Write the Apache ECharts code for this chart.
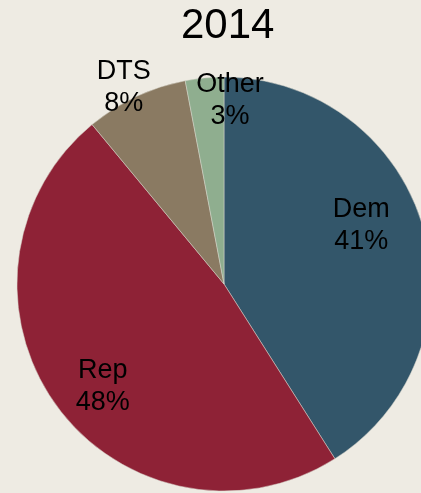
<!DOCTYPE html>
<html>
<head>
<meta charset="utf-8">
<script src="https://cdn.jsdelivr.net/npm/echarts@6/dist/echarts.min.js"></script>
<style>
  html, body { margin: 0; padding: 0; background: #EEEBE3; }
  #chart { width: 421px; height: 493px; }
</style>
</head>
<body>
<div id="chart"></div>
<script>
// Party share of registered voters, 2014
const title = '2014';
const parties = ['Dem', 'Rep', 'DTS', 'Other'];
const shares = [41, 48, 8, 3];
const colors = ['#33566A', '#8E2236', '#8A7A62', '#8FAE8F'];

// label nudges away from the default "inside" spot, per slice
const labelNudge = [[35, -29], [-35, 40], [-55, -100], [16, -77]];

const chart = echarts.init(document.getElementById('chart'), null, { renderer: 'canvas' });
chart.setOption({
  backgroundColor: '#EEEBE3',
  animation: false,
  title: {
    text: title,
    left: 176,
    top: 0,
    textStyle: { fontFamily: 'Liberation Sans', fontSize: 42, fontWeight: 'normal', color: '#000' }
  },
  series: [{
    type: 'pie',
    center: [224, 284],
    radius: 207,
    startAngle: 90,
    clockwise: true,
    data: parties.map((p, i) => ({ name: p, value: shares[i], itemStyle: { color: colors[i] } })),
    itemStyle: { borderColor: '#d9d6cd', borderWidth: 0.5 },
    label: {
      show: true,
      position: 'inside',
      formatter: (p) => p.name + '\n' + p.value + '%',
      fontFamily: 'Liberation Sans',
      fontSize: 27,
      lineHeight: 32,
      color: '#000',
      align: 'center'
    },
    labelLine: { show: false },
    labelLayout: (params) => ({ dx: labelNudge[params.dataIndex][0], dy: labelNudge[params.dataIndex][1] }),
    emphasis: { disabled: true }
  }]
});
</script>
</body>
</html>
